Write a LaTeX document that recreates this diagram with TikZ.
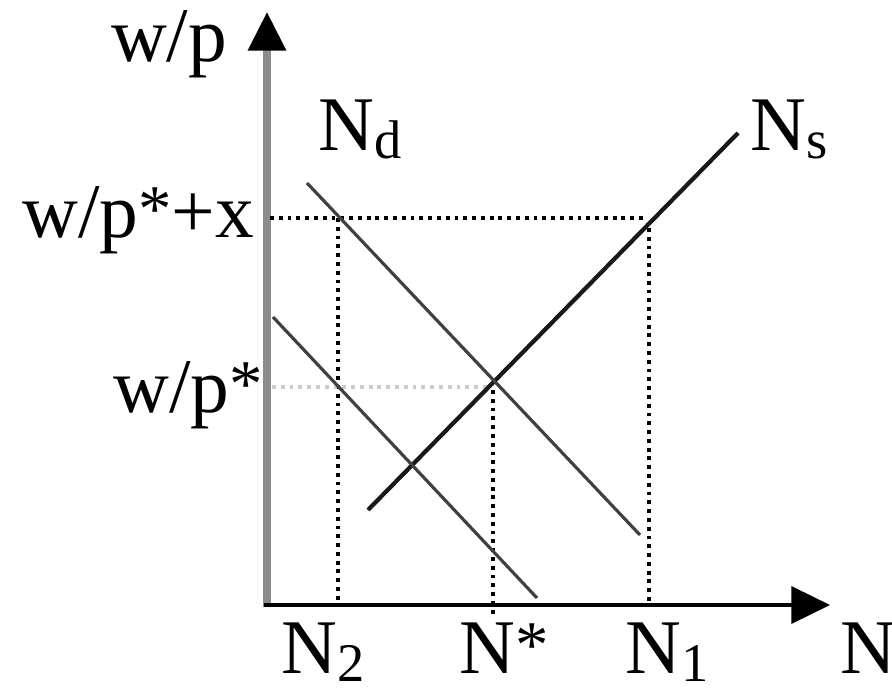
\documentclass[tikz,border=0pt]{standalone}
\usepackage{fontspec}
\setmainfont{Liberation Serif}
\newfontfamily\labelfont{Liberation Serif}
\usepackage{tikz}
\usetikzlibrary{arrows.meta}

\newcommand{\lsub}[1]{\raisebox{-5pt}{\fontsize{31}{31}\selectfont #1}}
\newcommand{\lstar}{\raisebox{3pt}{\fontsize{38}{38}\selectfont *}}

\begin{document}
\begin{tikzpicture}[x=0.2mm, y=-0.2mm, every node/.style={inner sep=0pt, outer sep=0pt, font=\labelfont\fontsize{44}{50}\selectfont, anchor=base},
    axis/.style={line width=2.3pt, -{Triangle[length=22pt, width=21pt, color=black]}},
    guide/.style={line width=2.2pt, dash pattern=on 2.2pt off 2.8pt},
    curve/.style={line width=1.8pt, color=black!75}]
        \useasboundingbox (0,0) rectangle (892,688);

        % axes
        \coordinate (origin) at (267,605);
        \coordinate (ytip) at (267,12);
        \coordinate (xtip) at (830,605);
        \draw[axis, color=black!45, line width=4pt] (267,607) -- (ytip);
        \draw[axis, color=black] (264,605) -- (xtip);

        % dotted guides
        \draw[guide] (270,218) -- (645,218);
        \draw[guide] (338,218) -- (338,603);
        \draw[guide] (649,228) -- (649,603);
        \draw[guide, color=black!20] (272,387) -- (490,387);
        \draw[guide] (493,390) -- (493,615);

        % supply and demand
        \coordinate (ns-lo) at (368,510);
        \coordinate (ns-hi) at (738,133);
        \coordinate (nd-hi) at (307,183);
        \coordinate (nd-lo) at (640,535);
        \coordinate (nd2-hi) at (273,317);
        \coordinate (nd2-lo) at (537,598);
        \draw[curve, color=black!90, line width=2.4pt] (ns-lo) -- (ns-hi);
        \draw[curve] (nd-hi) -- (nd-lo);
        \draw[curve] (nd2-hi) -- (nd2-lo);

        % labels
        \node (wp) at (169,62) {w/p};
        \node (wpx) [anchor=base east] at (254,237) {w/p\lstar+x};
        \node (wpstar) [anchor=base east] at (263,412) {w/p\lstar};
        \node (nd) at (360,150) {N\lsub{d}};
        \node (ns) at (789,150) {N\lsub{s}};
        \node (n2) at (323,673) {N\lsub{2}};
        \node (nstar) at (504,673) {N\lstar};
        \node (n1) at (667,673) {N\lsub{1}};
        \node (naxis) [anchor=base west] at (840,673) {N};
    \end{tikzpicture}
\end{document}
